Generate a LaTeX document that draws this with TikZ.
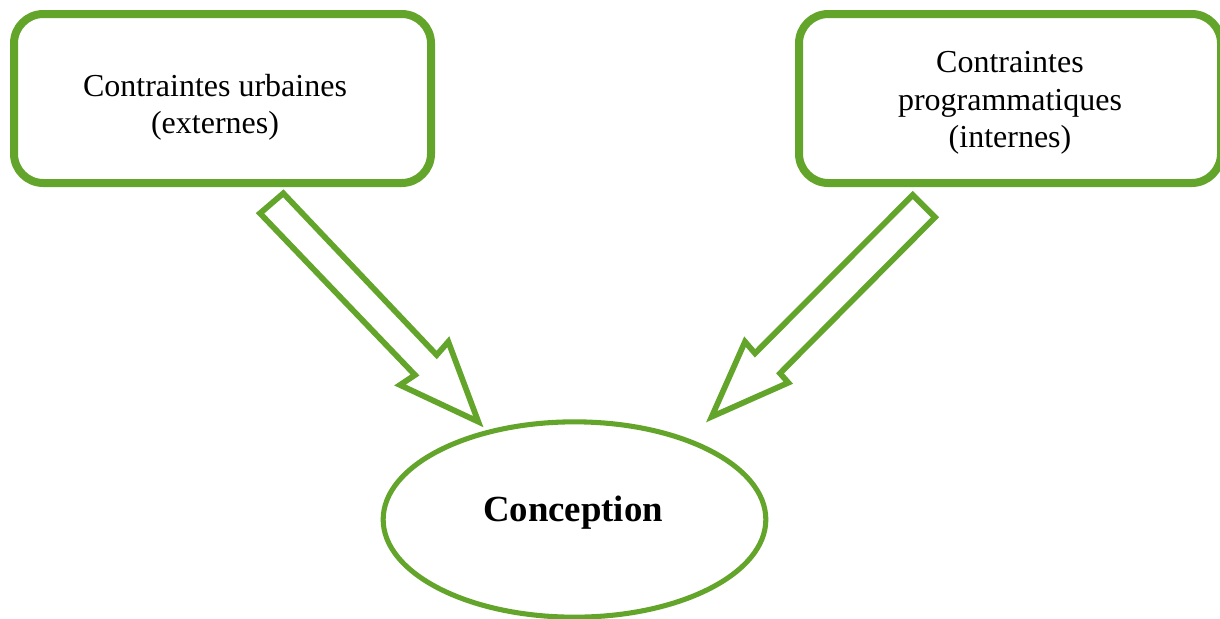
\documentclass[tikz,border=0pt]{standalone}
\usepackage{fontspec}
\setmainfont{Liberation Serif}
\usetikzlibrary{shapes.geometric}
\definecolor{leaf}{RGB}{98,165,42}
\begin{document}
\begin{tikzpicture}[x=0.75pt,y=-0.75pt,
  boxstyle/.style={draw=leaf,line width=6pt,rounded corners=22pt,rectangle,align=center,
    font=\fontsize{24}{28}\selectfont},
  ovalstyle/.style={draw=leaf,line width=3.8pt,ellipse,inner sep=0pt},
  blockarrow/.style={draw=leaf,line width=4.3pt,fill=white,miter limit=10}]
\useasboundingbox (0,0) rectangle (1220,618);
\node[boxstyle,minimum width=312.75pt,minimum height=126.75pt] (urb) at (222.5,98.5) {};
\node[font=\fontsize{24}{28}\selectfont,align=center] (urbt) at (215,107) {Contraintes urbaines\\(externes)};
\node[boxstyle,minimum width=316.5pt,minimum height=126.75pt] (prog) at (1010,98.5) {};
\node[font=\fontsize{24}{28}\selectfont,align=center] (progt) at (1010,103) {Contraintes\\programmatiques\\(internes)};
\node[ovalstyle,minimum width=287pt,minimum height=146.5pt] (conc) at (574.5,519.5) {};
\node[font=\bfseries\fontsize{27.6}{32}\selectfont,anchor=base] (conct) at (573,521) {Conception};
\draw[blockarrow] (283.3,193.3) -- (260,213.3) -- (415,375) -- (400,385) -- (478.3,421.7)
  -- (448.3,341.7) -- (436.7,355) -- cycle;
\draw[blockarrow] (912.7,195) -- (935,217.3) -- (780,373.3) -- (788.3,382.7) -- (711.7,416.7)
  -- (745,341.7) -- (755,353.3) -- cycle;
\end{tikzpicture}
\end{document}
